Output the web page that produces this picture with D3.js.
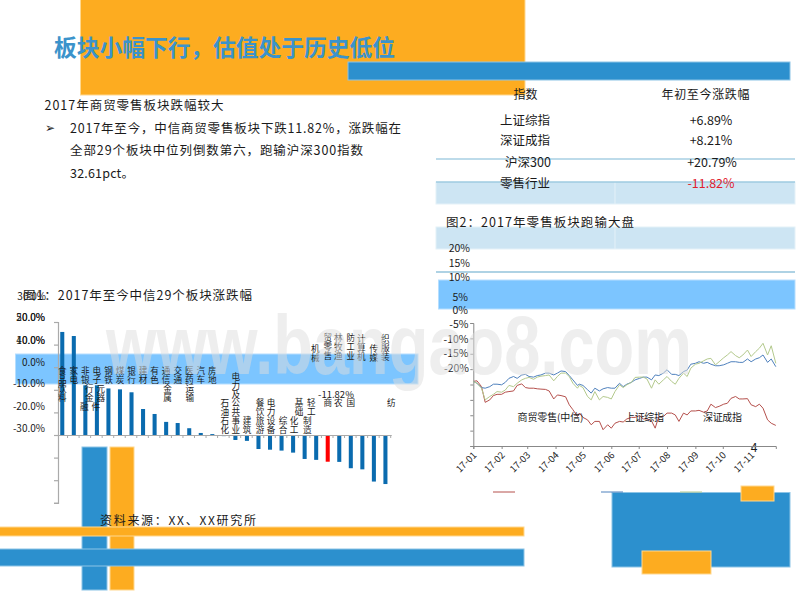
<!DOCTYPE html>
<html><head><meta charset="utf-8">
<script src="https://cdnjs.cloudflare.com/ajax/libs/d3/7.8.5/d3.min.js"></script>
<style>
html,body{margin:0;padding:0;background:#fff}
svg{display:block}
text{font-family:"Noto Sans CJK SC","Open Sans",sans-serif;fill:#1a1a1a}
</style></head><body>
<svg id="c" width="800" height="600"></svg>
<script>
// ---- bar chart data
const categories=["食品饮料","家电","非银行金融","电子元器件","钢铁","煤炭","银行","建材","有色金属","通信","交通运输","医药","汽车","房地产","石油石化","电力及公用事业","建筑","餐饮旅游","电力设备","综合","化工","基础化工","轻工制造","商贸零售","农林牧渔","国防军工","计算机","传媒","纺织服装"];
const barValues=[45.6,43.8,22,22,20.6,20.2,18.9,11.5,9.3,5.8,5.3,3,0.9,0.4,-0.5,-2.2,-2.6,-6.2,-6.5,-6.9,-7.8,-10.6,-11,-11.82,-11.9,-14.7,-15.2,-20.6,-21.7];
const barHighlight="商贸零售";
const barTicks=[-30,-20,-10,0,10,20,30,40,50];
const barTickLabels=["30.0%","20.0%","50.0%","10.0%","40.0%","0.0%","-10.0%","-20.0%","-30.0%"];
const barDataLabel="-11.82%";
// ---- line chart data
const lineDates=["01-01","01-05","01-10","01-14","01-19","01-23","01-27","02-01","02-05","02-09","02-14","02-18","02-23","02-27","03-03","03-08","03-12","03-16","03-21","03-25","03-30","04-03","04-07","04-12","04-16","04-20","04-25","04-27","05-01","05-06","05-10","05-14","05-19","05-23","05-28","06-01","06-05","06-10","06-14","06-18","06-23","06-27","07-02","07-06","07-10","07-15","07-19","07-23","07-28","08-01","08-06","08-10","08-14","08-19","08-23","08-27","09-01","09-05","09-10","09-14","09-18","09-23","09-27","10-02","10-06","10-10","10-15","10-19","10-23","10-28","11-01","11-06","11-10","11-14","11-19","11-23","11-28"];
const retail=[1.0,1.2,-0.7,-5.8,-5.0,-3.6,-3.2,-3.2,-2.5,-2.3,-2.1,-0.3,0.2,-1.0,-1.2,-1.2,-1.4,-1.5,-1.6,-2.1,-4.7,-3.4,-3.6,-4.0,-6.6,-8.2,-10.4,
-9.3,-10.7,-11.5,-13.1,-12.0,-12.0,-14.7,-13.1,-14.2,-12.6,-12.0,-12.2,-11.2,-10.7,-10.7,-10.1,-11.2,-11.2,-11.8,-14.2,-10.4,-10.4,-9.3,-9.3,-9.9,-12.0,-9.3,
-9.9,-8.6,-8.6,-8.4,-9.0,-8.6,-6.4,-7.5,-7.1,-6.4,-6.1,-4.5,-3.9,-4.7,-4.7,-4.6,-6.6,-7.2,-6.4,-7.7,-11.5,-12.6,-13.3];
const shanghai=[1.0,0.4,-1.0,-1.2,-0.7,0.1,0.1,-0.1,0.7,2.0,2.6,2.0,3.1,3.3,2.6,2.4,2.9,3.1,3.7,3.7,3.1,3.7,4.4,4.2,2.9,1.5,-0.3,
0.1,-0.3,-1.7,-2.8,-1.2,-2.1,-1.4,-1.0,-1.2,-1.2,0.4,-0.7,0.1,0.7,1.5,2.0,2.4,2.4,1.5,3.1,2.9,3.7,4.8,3.3,3.3,2.9,4.2,
4.7,6.6,6.9,7.4,6.9,7.2,6.6,6.1,6.1,6.4,6.9,7.4,7.4,7.2,7.2,8.3,7.4,8.3,8.7,9.6,7.2,8.3,5.8];
const shenzhen=[1.0,0.4,-1.2,-5.0,-3.9,-3.2,-2.3,-2.5,-1.8,-0.3,-0.7,0.4,1.5,2.0,2.3,1.7,2.4,2.7,2.9,3.1,1.2,2.6,3.7,3.7,2.6,0.4,-1.2,
-0.3,-1.0,-3.9,-5.0,-2.3,-5.0,-3.9,-4.2,-4.7,-2.3,-0.1,-1.0,-0.1,0.7,2.3,2.4,2.4,1.8,-1.2,1.5,0.1,1.5,2.6,1.0,0.1,2.0,3.7,
2.6,5.3,6.6,6.9,7.7,8.3,8.5,6.4,7.4,8.7,9.6,10.7,9.4,8.7,9.6,11.2,9.1,10.7,11.8,13.4,9.6,12.6,6.9];
const lineTicks=[-20,-15,-10,-5,0,5,10,15,20];
const lineTickLabels=["20%","15%","10%","5%","0%","-5%","-10%","-15%","-20%"];
const monthTicks=["17-01","17-02","17-03","17-04","17-05","17-06","17-07","17-08","17-09","17-10","17-11"];
// ---- table data
const tableHead=["指数","年初至今涨跌幅"];
const tableNames=["上证综指","深证成指","沪深300","零售行业"];
const tableValues=["+6.89%","+8.21%","+20.79%","-11.82%"];

const BLUE="#2C90CE",ORANGE="#FDAC20",PALE="#CDE5F3",SKY="#7CC5FF";
const svg=d3.select("#c");
function rect(x,y,w,h,f,s){return svg.append("rect").attr("x",x).attr("y",y).attr("width",w).attr("height",h).attr("fill",f).attr("stroke",s||"none").attr("stroke-width",s?1:0);}
function txt(s,x,y,size,o){o=o||{};const t=svg.append("text").attr("x",x).attr("y",y).attr("font-size",size).attr("dominant-baseline","central").text(s);
 if(o.anchor)t.attr("text-anchor",o.anchor); if(o.fill)t.style("fill",o.fill); if(o.weight)t.attr("font-weight",o.weight); if(o.len)t.attr("textLength",o.len).attr("lengthAdjust","spacing"); return t;}

// ---- decorative shapes
rect(80.5,-2,444.5,97,ORANGE,"#FFD88F");
rect(348,62,442,18,BLUE,"#8CC4E6");
rect(82,447,25,143,BLUE,"#8CC4E6");
rect(110,447,24,143,ORANGE,"#FFD88F");
rect(-2,527,526,9,ORANGE,"#FFD88F");
rect(-2,549,526,17,BLUE,"#8CC4E6");
rect(612,492.5,178,74.5,BLUE,"#8CC4E6");
rect(741,486,33,15,ORANGE,"#FFD88F");
rect(642,551,69,23,ORANGE,"#FFD88F");
rect(436,182,359,22,PALE,"#E4F1F8");
rect(436,227,359,22,PALE,"#E4F1F8");
svg.append("line").attr("x1",615).attr("x2",615).attr("y1",182).attr("y2",204).attr("stroke","#E4F1F8");
svg.append("line").attr("x1",615).attr("x2",615).attr("y1",227).attr("y2",249).attr("stroke","#E4F1F8");
[159,182,272].forEach((y,i)=>svg.append("line").attr("x1",436).attr("x2",795).attr("y1",y).attr("y2",y).attr("stroke",i<2?"#7DB8D6":"#5FA5C9").attr("stroke-width",1.2));
rect(438.5,280,356.5,29,SKY,"#B5DEFF");
rect(15.5,354,402.5,30,SKY,"#B5DEFF");

// ---- texts
txt("板块小幅下行\uFF0C估值处于历史低位",54,46,22.8,{fill:"#3B93CB",weight:700,len:341});
txt("2017年商贸零售板块跌幅较大",44.5,104,12.5,{len:179});
txt("➢",45,127,11.5,{});
txt("2017年至今\uFF0C中信商贸零售板块下跌11.82%\uFF0C涨跌幅在",70,127,12.5,{len:331});
txt("全部29个板块中位列倒数第六\uFF0C跑输沪深300指数",70,149.5,12.5,{len:293});
txt("32.61pct。",70,172,12.5,{len:64});
txt(tableHead[0],525.5,93,12,{anchor:"middle"});
txt(tableHead[1],705.5,93,12,{anchor:"middle",len:88});
const rowY=[119,139,161,182],rowX=[525,525,528,525],valX=[711,711,712,711];
tableNames.forEach((n,i)=>{
 txt(n,rowX[i],rowY[i],12.5,{anchor:"middle"});
 txt(tableValues[i],valX[i],rowY[i],12.5,{anchor:"middle",fill:i===3?"#E0202C":null});
});
txt("图2\uFF1A2017年零售板块跑输大盘",446,221,12.5,{len:188});
txt("图1\uFF1A2017年至今中信29个板块涨跌幅",23,294,12.5,{len:229});
txt("资料来源\uFF1AXX\u3001XX研究所",100,519,12,{len:156});
txt("4",754,446,12,{anchor:"middle"});

// ---- bar chart
const bx=d3.scaleBand().domain(categories).range([56.5,391.2]).paddingInner(0.65).paddingOuter(0.325);
const by=d3.scaleLinear().domain([-30,50]).range([502.8,322]);
const gy=svg.append("g").attr("transform","translate(58,0)").call(d3.axisLeft(by).tickValues(barTicks).tickSize(4).tickFormat(""));
gy.selectAll("path,line").attr("stroke","#aaa").attr("stroke-width",1.2);
svg.append("g").selectAll("rect").data(categories).join("rect")
 .attr("x",d=>bx(d)).attr("width",bx.bandwidth())
 .attr("y",(d,i)=>by(Math.max(0,barValues[i]))).attr("height",(d,i)=>Math.abs(by(barValues[i])-by(0)))
 .attr("fill",d=>d===barHighlight?"#FF0000":"#0A6BAF");
const gx=svg.append("g").attr("transform",`translate(0,${by(0)})`).call(d3.axisBottom(bx).tickSize(0).tickFormat(""));
gx.select("path").attr("stroke","#aaa").attr("stroke-width",1.2);
svg.append("g").selectAll("line").data(categories).join("line")
 .attr("x1",d=>bx(d)+bx.bandwidth()+bx.step()*0.325-0.5).attr("x2",d=>bx(d)+bx.bandwidth()+bx.step()*0.325-0.5)
 .attr("y1",by(0)).attr("y2",by(0)+3).attr("stroke","#aaa");
// displaced value-axis labels, as they sit in the picture
const barTickY=[295,316,316,339,339,361,382,405,427];
barTickLabels.forEach((s,i)=>txt(s,i===0?46:45,barTickY[i],10,{anchor:"end"}));
// category labels: wrapped fragments [category index, text, dx, first-char y]
const labelParts=[[0,"食品",0,370],[0,"饮料",0,388],[1,"家电",0,370],[2,"非银",0,370],[2,"行金",4,388],[2,"融",-1,406],[3,"电子",0,370],[3,"元器",4,388],[3,"件",-1,406],
[4,"钢铁",0,370],[5,"煤炭",0,370],[6,"银行",0,370],[7,"建材",0,370],[8,"有色",0,370],[8,"金属",13,388],[9,"通信",0,370],[10,"交通",0,370],[10,"运输",12,388],[11,"医药",0,370],[12,"汽车",0,370],[13,"房地",0,370],
[14,"石油石化",1,402],[15,"电力及",0.5,376],[15,"公共事业",0.5,402],[16,"建筑",0,420],[17,"餐饮旅游",1.5,402],[18,"电力设备",1,402],[19,"综合",1.5,420],[20,"化工",1,420],[21,"基础",-5.6,402],[22,"轻工",-5,402],[22,"制造",-9,420],
[22,"机械",-1,348],[23,"商",0,402],[23,"贸零售",0,337],[24,"农",-1,402],[24,"林牧渔",-1,337],[25,"国",0,402],[25,"防工业",0,337],[26,"计算机",-1,338],[27,"传媒",0,348],[28,"纺",6,402],[28,"织服装",0,338]];
const charH=9;
labelParts.forEach(([c,s,dx,y])=>{
 const cx=bx(categories[c])+bx.bandwidth()/2+dx;
 Array.from(s).forEach((ch,i)=>txt(ch,cx,y+i*charH,8.6,{anchor:"middle"}));
});
txt(barDataLabel,336,394,9.5,{anchor:"middle"});

// ---- line chart
const parse=d3.timeParse("%Y-%m-%d");
const dates=lineDates.map(d=>parse("2017-"+d));
const lx=d3.scaleTime().domain([parse("2017-01-01"),parse("2017-11-28")]).range([473.3,775.8]);
const ly=d3.scaleLinear().domain([-20,20]).range([446,323]);
const gly=svg.append("g").attr("transform","translate(473.3,0)").call(d3.axisLeft(ly).tickValues(lineTicks).tickSize(3).tickFormat(""));
gly.selectAll("path,line").attr("stroke","#888").attr("stroke-width",1);
const monthDates=monthTicks.map((m,i)=>new Date(2017,i,1));
const glx=svg.append("g").attr("transform","translate(0,446)").call(d3.axisBottom(lx).tickValues(monthDates).tickSize(3).tickFormat(""));
glx.selectAll("path,line").attr("stroke","#888").attr("stroke-width",1);
monthDates.forEach((d,i)=>{
 svg.append("text").attr("font-size",9.5).attr("text-anchor","end")
  .attr("transform",`translate(${lx(d)+1},${453}) rotate(-45)`).attr("dominant-baseline","central").text(monthTicks[i]);
});
const line=d3.line().x((d,i)=>lx(dates[i])).y(d=>ly(d));
[[retail,"#B5504C"],[shanghai,"#4F81BD"],[shenzhen,"#B3C98C"]].forEach(([s,c])=>
 svg.append("path").datum(s).attr("d",line).attr("fill","none").attr("stroke",c).attr("stroke-width",1));
const lineLabelY=[247,262,276,296,309,323,338,352,367],lineLabelX=[470,470,470,468,468,468.5,468.5,468.5,469];
lineTickLabels.forEach((s,i)=>txt(s,lineLabelX[i],lineLabelY[i],10.5,{anchor:"end"}));
txt("商贸零售(中信)",517.5,416,10,{len:66});
txt("上证综指",625,416,10,{len:39});
txt("深证成指",703,416,10,{len:39});
[[493,515,"#B5504C"],[601,623,"#4F81BD"],[680,702,"#B3C98C"]].forEach(([a,b,c])=>
 svg.append("line").attr("x1",a).attr("x2",b).attr("y1",492).attr("y2",492).attr("stroke",c).attr("stroke-width",1));

// ---- watermark
svg.append("text").attr("x",106).attr("y",374).attr("font-size",84).attr("font-weight",700)
 .attr("textLength",586).attr("lengthAdjust","spacingAndGlyphs")
 .style("font-family",'"Liberation Sans",sans-serif').style("fill","rgba(222,222,222,0.5)").text("www.bangao8.com");
</script>
</body></html>
